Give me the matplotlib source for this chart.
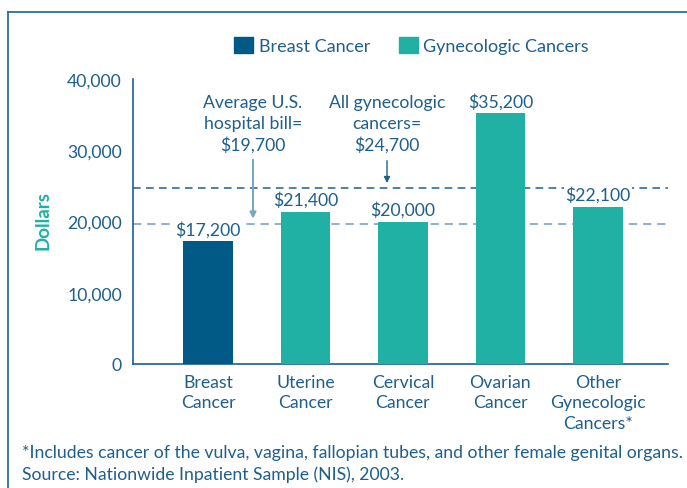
import matplotlib
matplotlib.use("Agg")
import matplotlib.pyplot as plt
from matplotlib.lines import Line2D
from matplotlib.patches import Rectangle

plt.rcParams['font.family'] = ['Lato', 'DejaVu Sans']

categories = ["Breast\nCancer", "Uterine\nCancer", "Cervical\nCancer", "Ovarian\nCancer", "Other\nGynecologic\nCancers*"]
values = [17200, 21400, 20000, 35200, 22100]
value_labels = ["$17,200", "$21,400", "$20,000", "$35,200", "$22,100"]
groups = ["Breast Cancer", "Gynecologic Cancers", "Gynecologic Cancers", "Gynecologic Cancers", "Gynecologic Cancers"]
avg_bill = 19700
gyn_avg = 24700
yticks = [0, 10000, 20000, 30000, 40000]
ytick_labels = ["0", "10,000", "20,000", "30,000", "40,000"]

DARK = "#005A85"
TEAL = "#20B0A4"
TXT = "#1E5F8C"
LIGHT = "#7AA6C2"
FS = 12.7

W, H = 687, 489
fig = plt.figure(figsize=(6.87, 4.89), dpi=100)
ax = fig.add_axes([133 / W, 1 - 365 / H, (668 - 133) / W, (365 - 80) / H])

colors = [DARK if g == "Breast Cancer" else TEAL for g in groups]
x = list(range(len(categories)))
ax.bar(x, values, width=0.51, color=colors, zorder=3)

XL = (-0.77, 4.72)
ax.set_xlim(*XL)
ax.set_ylim(0, 40000)

# reference lines
ax.axhline(avg_bill, color=LIGHT, lw=1.2, ls=(0, (5, 3.5)), zorder=1)
ax.axhline(gyn_avg, color=TXT, lw=1.1, ls=(0, (5, 3.5)), zorder=1)

for xi, v, lab in zip(x, values, value_labels):
    ax.text(xi, v + 500, lab, ha='center', va='bottom', fontsize=FS, color=TXT,
            zorder=4, bbox=dict(facecolor='white', edgecolor='none', pad=1.0))

ax.set_yticks(yticks)
ax.set_yticklabels(ytick_labels)
ax.set_xticks(x)
ax.set_xticklabels(categories, linespacing=1.35)
ax.tick_params(axis='y', length=0, pad=8, labelsize=FS, labelcolor=TXT)
ax.tick_params(axis='x', length=0, pad=7, labelsize=FS, labelcolor=TXT)

for s in ['top', 'right']:
    ax.spines[s].set_visible(False)
for s in ['left', 'bottom']:
    ax.spines[s].set_color(TXT)
    ax.spines[s].set_linewidth(1.2)

ax.set_ylabel("Dollars", color=TEAL, fontsize=13.5, fontweight='bold')
ax.yaxis.set_label_coords((51 - 133) / (668 - 133), (365 - 221) / (365 - 80))


def xd(px):
    return XL[0] + (px - 133) / (668 - 133) * (XL[1] - XL[0])


def yd(py):
    return (365 - py) / (365 - 80) * 40000


ax.text(xd(253), yd(95), "Average U.S.\nhospital bill=\n$19,700", ha='center', va='top',
        fontsize=FS, color=TXT, linespacing=1.35)
ax.text(xd(387), yd(95), "All gynecologic\ncancers=\n$24,700", ha='center', va='top',
        fontsize=FS, color=TXT, linespacing=1.35)
ax.annotate("", xy=(xd(253), avg_bill + 300), xytext=(xd(253), yd(158)),
            arrowprops=dict(arrowstyle='-|>', color=LIGHT, lw=1.5, mutation_scale=9))
ax.annotate("", xy=(xd(387), gyn_avg + 300), xytext=(xd(387), yd(159)),
            arrowprops=dict(arrowstyle='-|>', color=TXT, lw=1.0, mutation_scale=9))

# legend
handles = [Rectangle((0, 0), 1, 1, color=DARK), Rectangle((0, 0), 1, 1, color=TEAL)]
fig.legend(handles, ["Breast Cancer", "Gynecologic Cancers"], loc='center',
           bbox_to_anchor=(411.5 / W, 1 - 46.5 / H), ncol=2, frameon=False,
           fontsize=13, labelcolor=TXT, handlelength=1.05, handleheight=1.05,
           handletextpad=0.3, columnspacing=1.6)

# footnotes
fig.text(22 / W, 1 - 453 / H, "*Includes cancer of the vulva, vagina, fallopian tubes, and other female genital organs.",
         ha='left', va='center', fontsize=FS, color=TXT)
fig.text(22 / W, 1 - 475 / H, "Source: Nationwide Inpatient Sample (NIS), 2003.",
         ha='left', va='center', fontsize=FS, color=TXT)

# frame
fig.add_artist(Line2D([7.5 / W, 7.5 / W], [0, 1 - 12.5 / H], color="#2B6F9C", lw=1.3, transform=fig.transFigure))
fig.add_artist(Line2D([7.5 / W, 1], [1 - 12.5 / H, 1 - 12.5 / H], color="#2B6F9C", lw=1.3, transform=fig.transFigure))

fig.savefig("out.png", dpi=100)
